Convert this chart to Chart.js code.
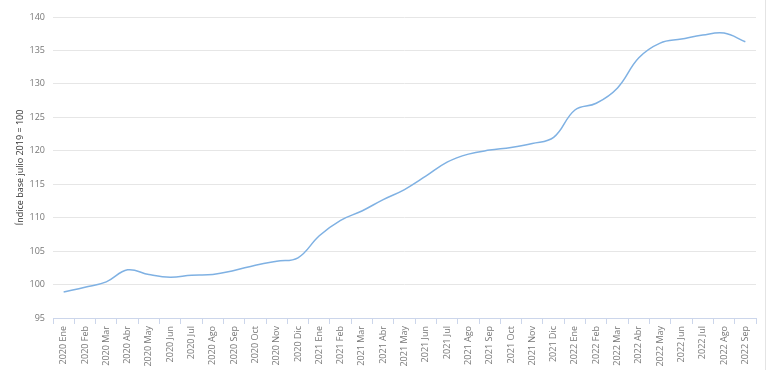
<!DOCTYPE html>
<html>
<head>
<meta charset="utf-8">
<script src="https://cdn.jsdelivr.net/npm/chart.js@4"></script>
<style>
  html, body { margin: 0; padding: 0; background: #fff; }
  #wrap { width: 768px; height: 370px; position: relative; }
  #wrap::after { content: ''; position: absolute; right: 2px; top: 0; bottom: 0; width: 1px; background: #e4e4e4; }
</style>
</head>
<body>
<div id="wrap"><canvas id="indexChart" width="768" height="370"></canvas></div>
<script>
const labels = [
    '2020 Ene', '2020 Feb', '2020 Mar', '2020 Abr', '2020 May', '2020 Jun',
    '2020 Jul', '2020 Ago', '2020 Sep', '2020 Oct', '2020 Nov', '2020 Dic',
    '2021 Ene', '2021 Feb', '2021 Mar', '2021 Abr', '2021 May', '2021 Jun',
    '2021 Jul', '2021 Ago', '2021 Sep', '2021 Oct', '2021 Nov', '2021 Dic',
    '2022 Ene', '2022 Feb', '2022 Mar', '2022 Abr', '2022 May', '2022 Jun',
    '2022 Jul', '2022 Ago', '2022 Sep'
];
const indexValues = [
    98.9, 99.6, 100.4, 102.2, 101.5, 101.1, 101.4, 101.5, 102.1, 102.9, 103.5, 104.0,
    107.3, 109.6, 111.0, 112.7, 114.2, 116.2, 118.3, 119.5, 120.1, 120.5, 121.1, 122.0,
    126.1, 127.1, 129.4, 133.9, 136.1, 136.7, 137.3, 137.6, 136.3
];
const yTicks = [95, 100, 105, 110, 115, 120, 125, 130, 135, 140];

document.addEventListener('DOMContentLoaded', () => {
    const ctx = document.getElementById('indexChart').getContext('2d');
    const fontFamily = '"Open Sans", "DejaVu Sans", sans-serif';

    new Chart(ctx, {
        type: 'line',
        data: {
            labels: labels,
            datasets: [{
                label: 'Índice',
                data: indexValues,
                borderColor: '#7fb1e3',
                borderWidth: 1.5,
                pointRadius: 0,
                tension: 0.4,
                fill: false
            }]
        },
        options: {
            responsive: false,
            animation: false,
            layout: { padding: { top: 17, right: 12, left: 0, bottom: 0 } },
            plugins: {
                legend: { display: false },
                tooltip: { enabled: false }
            },
            scales: {
                x: {
                    offset: true,
                    afterFit: scale => { scale.height = 52; },
                    grid: {
                        offset: true,
                        drawOnChartArea: false,
                        drawTicks: true,
                        tickLength: 6,
                        color: '#ccd6eb'
                    },
                    border: { display: true, color: '#ccd6eb' },
                    ticks: {
                        autoSkip: false,
                        minRotation: 90,
                        maxRotation: 90,
                        padding: 2,
                        color: '#777',
                        font: { family: fontFamily, size: 9 }
                    }
                },
                y: {
                    min: yTicks[0],
                    max: yTicks[yTicks.length - 1],
                    afterFit: scale => { scale.width = 53; },
                    afterBuildTicks: scale => { scale.ticks = yTicks.map(v => ({ value: v })); },
                    grid: {
                        color: '#e6e6e6',
                        drawTicks: false
                    },
                    border: { display: false },
                    ticks: {
                        padding: 8,
                        color: '#777',
                        font: { family: fontFamily, size: 9 }
                    },
                    title: {
                        display: true,
                        text: 'Índice base julio 2019 = 100',
                        color: '#333',
                        padding: { top: 15, bottom: 4 },
                        font: { family: fontFamily, size: 9 }
                    }
                }
            }
        }
    });
});
</script>
</body>
</html>
